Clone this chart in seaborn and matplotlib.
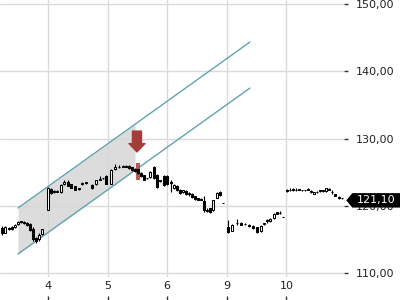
import numpy as np
import pandas as pd
import matplotlib
matplotlib.use("Agg")
import matplotlib.pyplot as plt
from matplotlib.path import Path
import seaborn as sns

# ---------------- data ----------------
t = [0.228, 0.279, 0.346, 0.396, 0.446, 0.497, 0.547, 0.597, 0.648, 0.698, 0.748, 0.799, 0.849, 0.899,
     1.000, 1.050, 1.101, 1.151, 1.218, 1.268, 1.336, 1.386, 1.453, 1.520, 1.570, 1.638, 1.738, 1.805, 1.872, 1.923, 1.973,
     2.057, 2.124, 2.191, 2.258, 2.309, 2.359, 2.409, 2.460, 2.510, 2.560, 2.611, 2.661, 2.711, 2.779, 2.829, 2.879, 2.946,
     2.997, 3.064, 3.114, 3.164, 3.215, 3.265, 3.315, 3.366, 3.416, 3.466, 3.517, 3.567, 3.617, 3.668, 3.718, 3.768, 3.836, 3.886, 3.936,
     4.020, 4.087, 4.171, 4.238, 4.305, 4.372, 4.440, 4.507, 4.574, 4.624, 4.674, 4.725, 4.792, 4.842, 4.893, 4.943,
     5.010, 5.060, 5.111, 5.161, 5.211, 5.262, 5.312, 5.362, 5.413, 5.463, 5.513, 5.564, 5.614, 5.664, 5.715, 5.765, 5.815, 5.883, 5.933]

open_ = [116.7, 116.0, 116.7, 116.8, 116.8, 117.3, 117.6, 117.6, 117.5, 117.3, 116.6, 115.2, 115.0, 115.8,
         119.4, 122.5, 122.2, 122.1, 122.0, 123.2, 123.6, 123.2, 122.9, 122.6, 123.2, 123.4, 123.1, 123.2, 123.9, 124.1, 124.4,
         123.3, 125.4, 125.7, 125.8, 125.9, 125.9, 125.7, 125.5, 125.4, 124.9, 124.5, 124.1, 124.3, 125.8, 124.6, 123.7, 124.4,
         124.4, 123.6, 122.6, 123.0, 122.4, 122.0, 122.2, 121.7, 121.8, 121.4, 121.1, 121.0, 120.7, 119.3, 119.6, 119.3, 121.2, 122.0, 120.4,
         116.8, 116.3, 117.4, 117.5, 117.3, 117.2, 117.0, 116.8, 116.2, 117.3, 117.8, 117.7, 118.2, 119.0, 118.9, 118.3,
         122.4, 122.3, 122.3, 122.4, 122.4, 122.3, 122.3, 122.5, 122.1, 121.8, 122.0, 122.3, 122.2, 122.2, 122.5, 122.0, 121.7, 121.3, 121.2]

high = [117.0, 117.0, 116.9, 117.0, 117.3, 117.8, 117.8, 117.7, 117.6, 117.4, 116.8, 115.4, 115.9, 116.6,
        122.8, 122.7, 122.3, 122.4, 123.2, 123.8, 123.8, 123.3, 123.0, 122.7, 123.5, 123.6, 123.2, 123.9, 124.4, 124.2, 124.5,
        125.5, 126.2, 126.0, 126.0, 126.1, 126.0, 125.8, 125.6, 125.5, 125.0, 124.6, 124.2, 125.1, 125.9, 124.7, 123.9, 124.5,
        124.6, 123.8, 123.2, 123.1, 122.5, 122.4, 122.3, 122.0, 121.9, 121.5, 121.2, 121.1, 121.4, 119.6, 119.7, 120.9, 122.0, 122.2, 120.4,
        117.9, 117.3, 118.0, 117.6, 117.5, 117.3, 117.1, 116.9, 117.1, 117.5, 118.1, 118.2, 118.9, 119.0, 119.2, 118.3,
        122.5, 122.6, 122.7, 122.6, 122.5, 122.4, 122.4, 122.6, 122.3, 122.1, 122.2, 122.4, 122.4, 122.7, 122.6, 122.3, 121.8, 121.4, 121.2]

low = [115.6, 115.9, 116.4, 116.4, 116.7, 117.2, 117.5, 117.3, 117.0, 116.2, 114.8, 114.5, 114.8, 115.7,
       119.3, 121.8, 121.9, 122.0, 121.9, 123.1, 122.9, 122.6, 122.3, 122.4, 123.1, 123.3, 122.5, 123.1, 123.8, 124.0, 123.2,
       123.2, 125.3, 125.6, 125.7, 125.7, 125.5, 125.2, 125.0, 124.7, 124.3, 123.8, 124.0, 124.2, 124.0, 122.6, 123.6, 123.0,
       123.1, 122.0, 122.5, 122.2, 121.8, 121.9, 121.6, 121.5, 121.2, 120.9, 120.8, 120.8, 119.0, 119.0, 118.9, 119.2, 121.1, 121.5, 120.4,
       116.0, 116.2, 117.2, 117.1, 117.1, 116.9, 116.6, 116.0, 116.1, 117.2, 117.5, 117.6, 118.1, 118.7, 118.7, 118.3,
       122.1, 122.2, 122.2, 122.2, 122.3, 122.2, 122.2, 122.3, 121.9, 121.7, 121.9, 122.1, 122.0, 122.1, 122.3, 121.8, 121.4, 121.0, 121.0]

close = [115.9, 116.8, 116.6, 116.5, 117.1, 117.6, 117.7, 117.5, 117.2, 116.4, 115.0, 114.7, 115.7, 116.5,
         122.6, 121.9, 122.0, 122.2, 123.1, 123.5, 123.0, 122.7, 122.4, 122.5, 123.4, 123.5, 122.6, 123.8, 124.0, 124.1, 123.3,
         125.3, 125.7, 125.8, 125.9, 125.8, 125.6, 125.3, 125.1, 124.8, 124.4, 123.9, 124.1, 125.0, 124.1, 122.8, 123.7, 123.1,
         123.2, 123.4, 123.1, 122.3, 121.9, 122.3, 121.7, 121.9, 121.3, 121.0, 120.9, 120.9, 119.3, 119.2, 119.1, 120.8, 121.9, 121.6, 120.4,
         116.1, 117.2, 117.45, 117.2, 117.3, 117.0, 116.7, 116.1, 117.0, 117.4, 117.8, 118.1, 118.8, 118.8, 118.9, 118.3,
         122.2, 122.4, 122.5, 122.3, 122.4, 122.3, 122.3, 122.4, 122.1, 122.0, 122.1, 122.2, 122.3, 122.6, 122.4, 122.0, 121.5, 121.1, 121.1]

day_ticks = [1, 2, 3, 4, 5]
day_labels = ["4", "5", "6", "9", "10"]
price_ticks = [110, 120, 130, 140, 150]
price_labels = ["110,00", "120,00", "130,00", "140,00", "150,00"]

channel_x = [0.497, 4.389]
channel_upper = [119.67, 144.35]
channel_lower = [112.83, 137.5]
channel_fill_end = 2.46

signal_x = 2.493
signal_top = 131.1
signal_tip = 128.0
signal_candle_x = 2.51
signal_candle_low = 123.8
signal_candle_high = 126.4

last_price = 121.10
last_label = "121,10"

# ---------------- style ----------------
sns.set_theme(style="white")
plt.rcParams['font.family'] = ['DejaVu Sans']

W, H = 400, 300
fig = plt.figure(figsize=(4, 3), dpi=100)
fig.patch.set_facecolor("white")
ax = fig.add_axes([0, 23 / H, 344 / W, 277 / H])
ax.set_facecolor("white")

df = pd.DataFrame({"t": t, "o": open_, "h": high, "l": low, "c": close})
up = df["c"] >= df["o"]

# channel fill + lines
xs = np.array([channel_x[0], channel_fill_end])
ax.fill_between(xs, np.interp(xs, channel_x, channel_lower),
                np.interp(xs, channel_x, channel_upper),
                color="#d6d6d6", alpha=0.85, lw=0, zorder=1)
sns.lineplot(x=channel_x, y=channel_upper, ax=ax, color="#62a4ae", lw=1, zorder=2)
sns.lineplot(x=channel_x, y=channel_lower, ax=ax, color="#62a4ae", lw=1, zorder=2)

# highlighted signal candle
ax.bar(signal_candle_x, signal_candle_high - signal_candle_low, bottom=signal_candle_low,
       width=0.06, color="#b04a45", alpha=0.9, lw=0, zorder=2.9)

# candles
ax.vlines(df["t"], df["l"], df["h"], color="black", lw=0.8, zorder=3)
ax.bar(df["t"], (df["c"] - df["o"]).abs().clip(lower=0.06), bottom=df[["o", "c"]].min(axis=1),
       width=0.048, color=np.where(up, "white", "black"), edgecolor="black", linewidth=0.75, zorder=4)

# red down arrow
ax.annotate("", xy=(signal_x, signal_tip), xytext=(signal_x, signal_top),
            arrowprops=dict(arrowstyle="simple,head_length=0.6,head_width=1.15,tail_width=0.65",
                            color="#a63c37", shrinkA=0, shrinkB=0, mutation_scale=10),
            zorder=6)

# axes setup
ax.set_xlim(0.195, 1 + (344 - 48) / 59.6)
ax.set_ylim(150 - 273 / 6.725, 150 + 4 / 6.725)
ax.set_xticks(day_ticks)
ax.set_xticklabels(day_labels)
ax.set_yticks(price_ticks)
ax.set_yticklabels(price_labels)
ax.yaxis.tick_right()
ax.grid(True, color="#dadada", lw=1)
ax.set_axisbelow(True)
for s in ax.spines.values():
    s.set_visible(False)
ax.tick_params(axis="y", which="both", right=True, left=False, direction="out", length=3.2, width=1,
               color="#333333", pad=5, labelsize=8, labelcolor="#222222")
ax.tick_params(axis="x", which="both", bottom=True, length=0, pad=3.2, labelsize=8, labelcolor="#222222")
ax.set_xlabel("")
ax.set_ylabel("")

# separate tick marks at the very bottom
sec = ax.secondary_xaxis(-23 / 277)
sec.set_xticks(day_ticks)
sec.xaxis.set_ticks_position("bottom")
sec.tick_params(direction="in", length=3, width=1, color="#333333", labelbottom=False, labeltop=False)
for s in sec.spines.values():
    s.set_visible(False)


def tag_box(x0, y0, width, height, mutation_size):
    padx = 0.42 * mutation_size
    pady = 0.2 * mutation_size
    x0 = x0 - padx
    x1 = x0 + width + 2 * padx + 30
    y0 = y0 - pady
    y1 = y0 + height + 2 * pady
    tip = 0.42 * (y1 - y0)
    ym = (y0 + y1) / 2
    verts = [(x0 - tip, ym), (x0, y0), (x1, y0), (x1, y1), (x0, y1), (x0 - tip, ym)]
    codes = [Path.MOVETO] + [Path.LINETO] * 4 + [Path.CLOSEPOLY]
    return Path(verts, codes)


ax.annotate(last_label, xy=(1, last_price), xycoords=ax.get_yaxis_transform(),
            xytext=(13, -2), textcoords="offset pixels", ha="left", va="center",
            color="white", fontsize=8,
            bbox=dict(boxstyle=tag_box, fc="black", ec="black", lw=0),
            annotation_clip=False, zorder=10)

fig.savefig("out.png", dpi=100)
